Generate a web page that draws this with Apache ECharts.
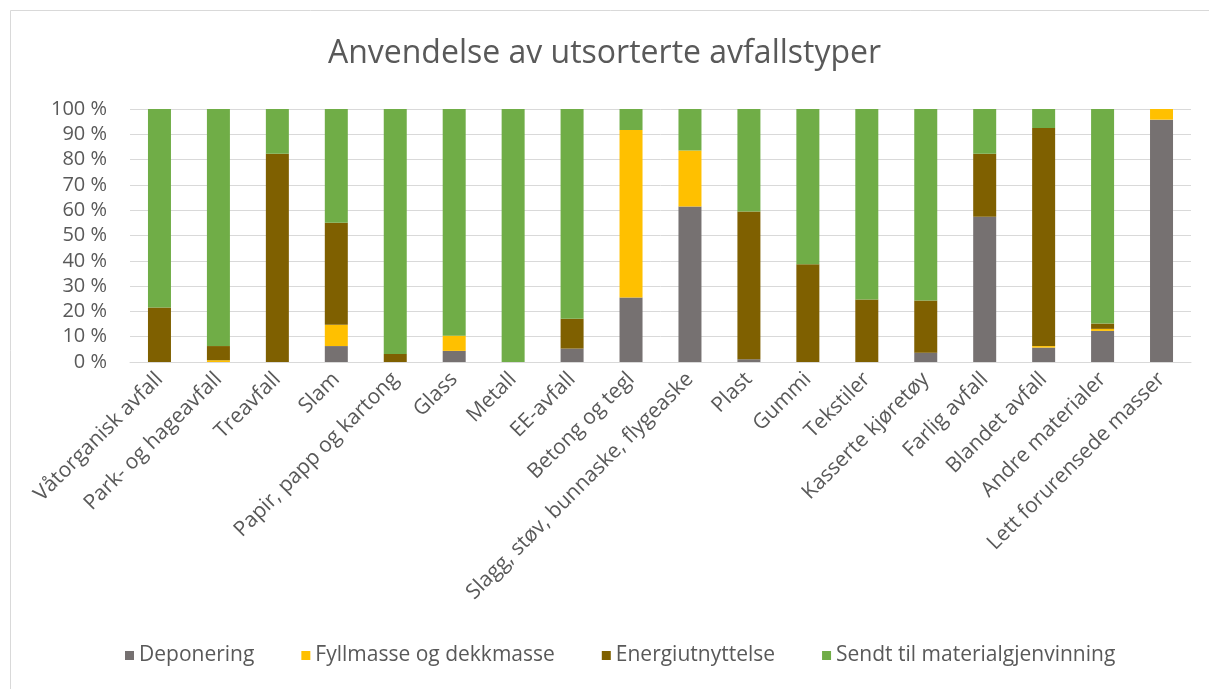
<!DOCTYPE html>
<html>
<head>
<meta charset="utf-8">
<script src="https://cdn.jsdelivr.net/npm/echarts@6/dist/echarts.min.js"></script>
<style>
html,body{margin:0;padding:0;background:#fff;}
#c{width:1209px;height:689px;}
</style>
</head>
<body>
<div id="c"></div>
<script>
const categories = ["Våtorganisk avfall","Park- og hageavfall","Treavfall","Slam","Papir, papp og kartong","Glass","Metall","EE-avfall","Betong og tegl","Slagg, støv, bunnaske, flygeaske","Plast","Gummi","Tekstiler","Kasserte kjøretøy","Farlig avfall","Blandet avfall","Andre materialer","Lett forurensede masser"];
const deponering = [0, 0, 0, 6.3, 0, 4.4, 0, 5.3, 25.5, 61.5, 1.1, 0, 0, 3.7, 57.4, 5.7, 12.3, 95.8];
const fyllmasse = [0, 0.7, 0, 8.4, 0, 6.0, 0, 0, 66.2, 22.1, 0, 0, 0, 0, 0, 0.6, 0.8, 4.2];
const energi = [21.5, 5.6, 82.3, 40.3, 3.2, 0, 0, 11.8, 0, 0, 58.4, 38.6, 24.7, 20.6, 24.9, 86.2, 2.1, 0];
const materialgjenvinning = [78.5, 93.7, 17.7, 45.0, 96.8, 89.6, 100, 82.9, 8.3, 16.4, 40.5, 61.4, 75.3, 75.7, 17.7, 7.5, 84.8, 0];
const seriesNames = ["Deponering","Fyllmasse og dekkmasse","Energiutnyttelse","Sendt til materialgjenvinning"];
const colors = ["#767171","#FFC000","#7F6000","#70AD47"];

const font = "'Open Sans', sans-serif";
const chart = echarts.init(document.getElementById('c'));
const datasets = [deponering, fyllmasse, energi, materialgjenvinning];
chart.setOption({
  animation: false,
  backgroundColor: '#ffffff',
  title: {
    text: 'Anvendelse av utsorterte avfallstyper',
    left: 'center',
    top: 33,
    textStyle: {fontFamily: font, fontSize: 32, fontWeight: 'normal', color: '#595959'}
  },
  graphic: [{
    type: 'rect',
    shape: {x: 10.5, y: 10.5, width: 1220, height: 700},
    style: {fill: 'none', stroke: '#d9d9d9', lineWidth: 1},
    silent: true
  }],
  legend: {
    bottom: 18,
    left: 120,
    itemWidth: 9,
    itemHeight: 9,
    itemGap: 47,
    icon: 'rect',
    textStyle: {fontFamily: font, fontSize: 21, color: '#595959'},
    data: seriesNames
  },
  grid: {left: 130, right: 18, top: 109, bottom: 327, containLabel: false},
  xAxis: {
    type: 'category',
    data: categories,
    axisLine: {lineStyle: {color: '#d9d9d9', width: 1}},
    axisTick: {show: false},
    axisLabel: {rotate: 45, interval: 0, margin: 14, fontFamily: font, fontSize: 21, color: '#595959'}
  },
  yAxis: {
    type: 'value',
    min: 0, max: 100, interval: 10,
    axisLine: {show: false},
    axisTick: {show: false},
    splitLine: {lineStyle: {color: '#d9d9d9', width: 1}},
    axisLabel: {formatter: '{value} %', margin: 23, fontFamily: font, fontSize: 20, color: '#595959'}
  },
  series: seriesNames.map((n, i) => ({
    name: n,
    type: 'bar',
    stack: 'total',
    barWidth: 23,
    itemStyle: {color: colors[i]},
    data: datasets[i]
  }))
});
</script>
</body>
</html>
